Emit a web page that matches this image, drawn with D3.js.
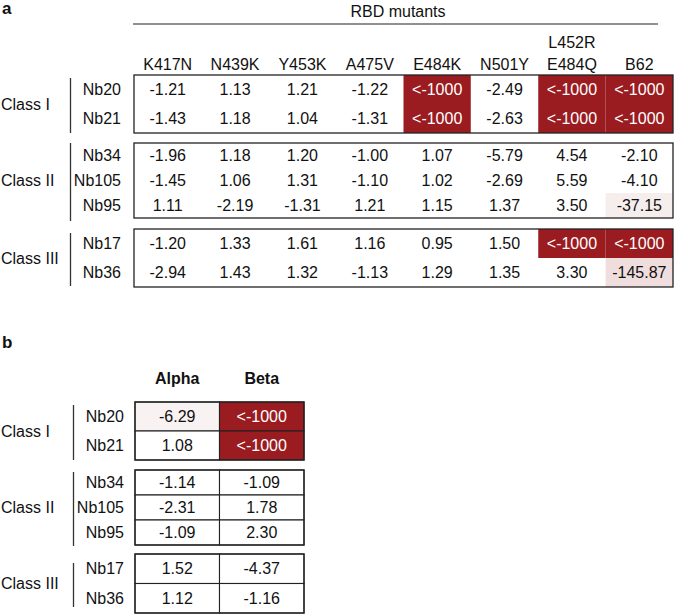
<!DOCTYPE html>
<html lang="en">
<head>
    <meta charset="UTF-8">
    <title>RBD mutants nanobody table</title>
    <script src="https://d3js.org/d3.v7.min.js"></script>
    <style>
        body { margin: 0; background: #fff; }
        text {
            font-family: "Liberation Sans", Arial, sans-serif;
            font-size: 16px;
            fill: #111;
        }
        .panel { font-size: 17px; font-weight: bold; }
        .bold { font-weight: bold; }
        .frame { fill: none; stroke: #222; stroke-width: 1.3; }
        .bracket { stroke: #333; stroke-width: 1.3; }
    </style>
</head>
<body>
<div id="chart"></div>
<script>
    // data
    const LOW = -Infinity; // shown as "<-1000"
    const mutants = ["K417N", "N439K", "Y453K", "A475V", "E484K", "N501Y", "L452R|E484Q", "B62"];
    const classes = ["Class I", "Class II", "Class III"];
    const classNbs = [["Nb20", "Nb21"], ["Nb34", "Nb105", "Nb95"], ["Nb17", "Nb36"]];
    const rbdValues = [
        [-1.21, 1.13, 1.21, -1.22, LOW, -2.49, LOW, LOW],
        [-1.43, 1.18, 1.04, -1.31, LOW, -2.63, LOW, LOW],
        [-1.96, 1.18, 1.20, -1.00, 1.07, -5.79, 4.54, -2.10],
        [-1.45, 1.06, 1.31, -1.10, 1.02, -2.69, 5.59, -4.10],
        [1.11, -2.19, -1.31, 1.21, 1.15, 1.37, 3.50, -37.15],
        [-1.20, 1.33, 1.61, 1.16, 0.95, 1.50, LOW, LOW],
        [-2.94, 1.43, 1.32, -1.13, 1.29, 1.35, 3.30, -145.87]
    ];
    const variants = ["Alpha", "Beta"];
    const variantValues = [
        [-6.29, LOW],
        [1.08, LOW],
        [-1.14, -1.09],
        [-2.31, 1.78],
        [-1.09, 2.30],
        [1.52, -4.37],
        [1.12, -1.16]
    ];

    const width = 675;
    const height = 615;
    const red = "#9a1c20";

    const color = d3.scaleLinear()
        .domain([-6, -150, -1000])
        .range(["#f8f2f2", "#f0dcdc", red])
        .clamp(true);
    const fillOf = v => v > -6 ? "#fff" : color(v === LOW ? -1000 : v);
    const label = v => v === LOW ? "<-1000" : v.toFixed(2);

    const svg = d3.select("#chart").append("svg")
        .attr("width", width).attr("height", height);

    function drawTable(opt) {
        const g = svg.append("g");
        const x = d3.scaleBand().domain(opt.cols).range([opt.x0, opt.x1]);

        let rowIndex = 0;
        classes.forEach(function(cls, gi) {
            const nbs = classNbs[gi];
            const top = opt.tops[gi];
            const rh = opt.rowH[gi];
            const y = d3.scaleBand().domain(nbs).range([top, top + nbs.length * rh]);
            const rows = nbs.map((nb, i) => ({nb: nb, vals: opt.values[rowIndex + i]}));
            rowIndex += nbs.length;

            const cells = [];
            rows.forEach(r => r.vals.forEach((v, ci) => cells.push({nb: r.nb, col: opt.cols[ci], v: v})));

            g.selectAll(null).data(cells).enter().append("rect")
                .attr("x", d => x(d.col))
                .attr("y", d => y(d.nb))
                .attr("width", x.bandwidth())
                .attr("height", y.bandwidth())
                .attr("fill", d => fillOf(d.v))
                .attr("stroke", opt.grid ? "#222" : "none")
                .attr("stroke-width", 1.1);

            g.selectAll(null).data(cells).enter().append("text")
                .attr("x", d => x(d.col) + x.bandwidth() / 2)
                .attr("y", d => y(d.nb) + y.bandwidth() / 2)
                .attr("dy", "0.35em")
                .attr("text-anchor", "middle")
                .style("fill", d => d.v === LOW ? "#fff" : "#111")
                .text(d => label(d.v));

            g.append("rect").attr("class", "frame")
                .attr("x", opt.x0).attr("y", top)
                .attr("width", opt.x1 - opt.x0)
                .attr("height", nbs.length * rh);

            // row labels
            g.selectAll(null).data(nbs).enter().append("text")
                .attr("x", opt.labelX)
                .attr("y", d => y(d) + y.bandwidth() / 2)
                .attr("dy", "0.35em")
                .attr("text-anchor", "end")
                .text(d => d);

            // class bracket and label
            g.append("line").attr("class", "bracket")
                .attr("x1", opt.bracketX).attr("x2", opt.bracketX)
                .attr("y1", top + opt.brPad[gi]).attr("y2", top + nbs.length * rh - opt.brPad[gi] + 3);
            g.append("text")
                .attr("x", 1)
                .attr("y", top + nbs.length * rh / 2)
                .attr("dy", "0.35em")
                .text(cls);
        });

        // column headers
        const hdr = g.selectAll(null).data(opt.cols).enter().append("text")
            .attr("class", opt.boldHeader ? "bold" : null)
            .attr("text-anchor", "middle")
            .attr("x", d => x(d) + x.bandwidth() / 2)
            .attr("y", opt.headerY);
        hdr.each(function(d) {
            const parts = d.split("|");
            const t = d3.select(this);
            parts.forEach((p, i) => {
                t.append("tspan")
                    .attr("x", x(d) + x.bandwidth() / 2)
                    .attr("dy", i === 0 ? -(parts.length - 1) * 22 : 22)
                    .text(p);
            });
        });
        return x;
    }

    // panel a
    svg.append("text").attr("class", "panel").attr("x", 2).attr("y", 14).text("a");
    svg.append("text").attr("x", 398).attr("y", 17).attr("text-anchor", "middle").text("RBD mutants");
    svg.append("line").attr("x1", 133).attr("x2", 658).attr("y1", 24).attr("y2", 24)
        .attr("stroke", "#222").attr("stroke-width", 1.2);

    drawTable({
        cols: mutants, values: rbdValues,
        x0: 134, x1: 673,
        tops: [75, 143, 229], rowH: [29, 25, 29], brPad: [3, 0, 4],
        labelX: 121, bracketX: 70.5, headerY: 70,
        grid: false, boldHeader: false
    });

    // panel b
    svg.append("text").attr("class", "panel").attr("x", 2).attr("y", 348).text("b");

    drawTable({
        cols: variants, values: variantValues,
        x0: 135, x1: 304,
        tops: [402, 470, 554], rowH: [29, 25, 29.5], brPad: [3, 2, 9],
        labelX: 124, bracketX: 73.5, headerY: 384,
        grid: true, boldHeader: true
    });
</script>
</body>
</html>
